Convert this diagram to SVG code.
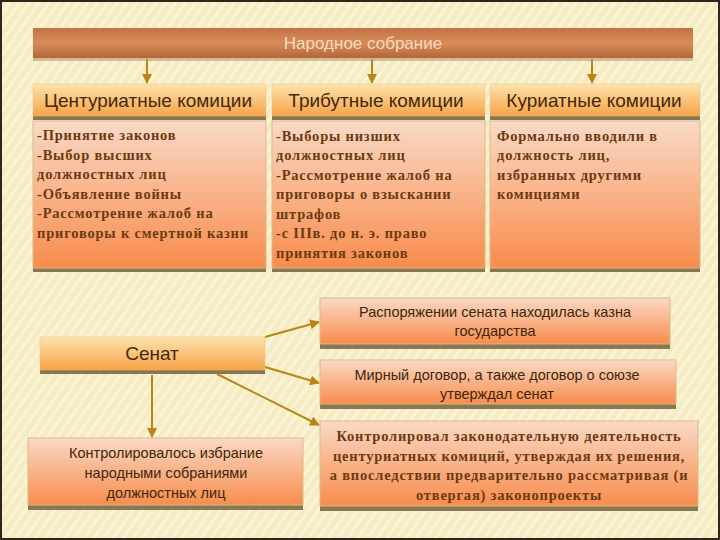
<svg xmlns="http://www.w3.org/2000/svg" width="720" height="540" viewBox="0 0 720 540">
<defs>
<style>
.sans{font-family:"Liberation Sans","DejaVu Sans",sans-serif;}
.serif{font-family:"Liberation Serif","DejaVu Serif",serif;font-weight:bold;fill:#6b3a12;font-size:14.5px;letter-spacing:0.8px;}
.hdr{font-size:19px;fill:#46290a;text-anchor:middle;}
.mid{font-size:14.5px;fill:#40260a;text-anchor:middle;}
.shadow{fill:#8a7650;}
.conn{stroke:#b98516;stroke-width:2;fill:none;marker-end:url(#ah);}
</style>
<pattern id="stripes" width="8" height="8" patternUnits="userSpaceOnUse" patternTransform="rotate(35)">
<rect width="8" height="8" fill="#f6ecc3"/>
<rect width="3" height="8" fill="#fbf3d6"/>
</pattern>
<linearGradient id="gTop" x1="0" y1="0" x2="0" y2="1">
<stop offset="0" stop-color="#c27244"/>
<stop offset="0.5" stop-color="#d88c59"/>
<stop offset="1" stop-color="#b46539"/>
</linearGradient>
<linearGradient id="gHdr" x1="0" y1="0" x2="0" y2="1">
<stop offset="0" stop-color="#fde3ad"/>
<stop offset="1" stop-color="#f6a348"/>
</linearGradient>
<linearGradient id="gBox" x1="0" y1="0" x2="0" y2="1">
<stop offset="0" stop-color="#fad9c6"/>
<stop offset="1" stop-color="#f88c4c"/>
</linearGradient>
<marker id="ah" viewBox="0 0 10 10" refX="9" refY="5" markerWidth="5" markerHeight="5" orient="auto">
<path d="M0,0 L10,5 L0,10 z" fill="#b98516"/>
</marker>
</defs>
<rect x="0" y="0" width="720" height="540" fill="url(#stripes)"/>
<rect x="1" y="1" width="718" height="538" fill="none" stroke="#2e2618" stroke-width="2"/>

<g id="connectors">
<line class="conn" x1="147" y1="59" x2="147" y2="83"/>
<line class="conn" x1="372" y1="59" x2="372" y2="83"/>
<line class="conn" x1="592" y1="59" x2="592" y2="83"/>
<line class="conn" x1="265" y1="337" x2="319" y2="322"/>
<line class="conn" x1="265" y1="367" x2="319" y2="383"/>
<line class="conn" x1="217" y1="374" x2="319" y2="425"/>
<line class="conn" x1="152" y1="375" x2="152" y2="437"/>
</g>

<g id="narodnoe">
<rect x="33" y="31" width="660" height="30" fill="#b89a70" opacity="0.6"/>
<rect x="33" y="28" width="660" height="30" fill="url(#gTop)"/>
<text class="sans" x="363" y="49" font-size="17" fill="#f6dcc0" text-anchor="middle">Народное собрание</text>
</g>

<g id="hdr1">
<rect class="shadow" x="33" y="88" width="233" height="32"/>
<rect x="33" y="84" width="233" height="32" fill="url(#gHdr)" stroke="#e9c27e" stroke-width="0.5"/>
<text class="sans hdr" x="148" y="107">Центуриатные комиции</text>
</g>
<g id="hdr2">
<rect class="shadow" x="272" y="88" width="213" height="32"/>
<rect x="272" y="84" width="213" height="32" fill="url(#gHdr)" stroke="#e9c27e" stroke-width="0.5"/>
<text class="sans hdr" x="376" y="107">Трибутные комиции</text>
</g>
<g id="hdr3">
<rect class="shadow" x="490" y="88" width="210" height="32"/>
<rect x="490" y="84" width="210" height="32" fill="url(#gHdr)" stroke="#e9c27e" stroke-width="0.5"/>
<text class="sans hdr" x="594" y="107">Куриатные комиции</text>
</g>

<g id="box1">
<rect class="shadow" x="33" y="124" width="233" height="148"/>
<rect x="33" y="121" width="233" height="147" fill="url(#gBox)" stroke="#d9b98a" stroke-width="1"/>
<text class="serif" x="37" y="140">-Принятие законов</text>
<text class="serif" x="37" y="160">-Выбор высших</text>
<text class="serif" x="37" y="179">должностных лиц</text>
<text class="serif" x="37" y="199">-Объявление войны</text>
<text class="serif" x="37" y="218">-Рассмотрение жалоб на</text>
<text class="serif" x="37" y="238">приговоры к смертной казни</text>
</g>
<g id="box2">
<rect class="shadow" x="272" y="124" width="213" height="148"/>
<rect x="272" y="121" width="213" height="147" fill="url(#gBox)" stroke="#d9b98a" stroke-width="1"/>
<text class="serif" x="276" y="141">-Выборы низших</text>
<text class="serif" x="276" y="160">должностных лиц</text>
<text class="serif" x="276" y="180">-Рассмотрение жалоб  на</text>
<text class="serif" x="276" y="199">приговоры о взыскании</text>
<text class="serif" x="276" y="219">штрафов</text>
<text class="serif" x="276" y="238">-с IIIв. до н. э. право</text>
<text class="serif" x="276" y="258">принятия законов</text>
</g>
<g id="box3">
<rect class="shadow" x="490" y="124" width="210" height="148"/>
<rect x="490" y="121" width="210" height="147" fill="url(#gBox)" stroke="#d9b98a" stroke-width="1"/>
<text class="serif" x="497" y="141">Формально вводили в</text>
<text class="serif" x="497" y="160">должность лиц,</text>
<text class="serif" x="497" y="180">избранных другими</text>
<text class="serif" x="497" y="199">комициями</text>
</g>

<g id="senat">
<rect class="shadow" x="40" y="341" width="225" height="33"/>
<rect x="40" y="337" width="225" height="33" fill="url(#gHdr)" stroke="#e9c27e" stroke-width="0.5"/>
<text class="sans hdr" x="152" y="360">Сенат</text>
</g>

<g id="r1">
<rect class="shadow" x="320" y="302" width="350" height="47"/>
<rect x="320" y="298" width="350" height="46" fill="url(#gBox)" stroke="#d9b98a" stroke-width="1"/>
<text class="sans mid" x="495" y="317">Распоряжении сената находилась казна</text>
<text class="sans mid" x="495" y="336">государства</text>
</g>
<g id="r2">
<rect class="shadow" x="320" y="364" width="356" height="45"/>
<rect x="320" y="360" width="356" height="44" fill="url(#gBox)" stroke="#d9b98a" stroke-width="1"/>
<text class="sans mid" x="497" y="380">Мирный договор, а также договор о союзе</text>
<text class="sans mid" x="497" y="399">утверждал сенат</text>
</g>
<g id="r3">
<rect class="shadow" x="320" y="425" width="378" height="86"/>
<rect x="320" y="421" width="378" height="85" fill="url(#gBox)" stroke="#d9b98a" stroke-width="1"/>
<text class="serif" x="509" y="441" text-anchor="middle" letter-spacing="0.3" fill="#5e3410">Контролировал законодательную деятельность</text>
<text class="serif" x="509" y="461" text-anchor="middle" letter-spacing="0.3" fill="#5e3410">центуриатных комиций, утверждая их решения,</text>
<text class="serif" x="509" y="480" text-anchor="middle" letter-spacing="0.3" fill="#5e3410">а впоследствии предварительно рассматривая (и</text>
<text class="serif" x="509" y="500" text-anchor="middle" letter-spacing="0.3" fill="#5e3410">отвергая) законопроекты</text>
</g>

<g id="bl">
<rect class="shadow" x="28" y="442" width="275" height="68"/>
<rect x="28" y="438" width="275" height="67" fill="url(#gBox)" stroke="#d9b98a" stroke-width="1"/>
<text class="sans mid" x="166" y="458">Контролировалось избрание</text>
<text class="sans mid" x="166" y="478">народными собраниями</text>
<text class="sans mid" x="166" y="498">должностных лиц</text>
</g>
</svg>
